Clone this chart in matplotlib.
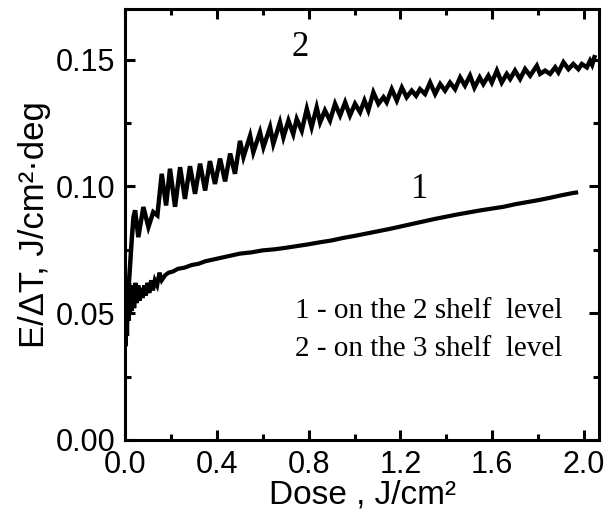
from typing import List
import matplotlib
matplotlib.use("Agg")
import matplotlib.pyplot as plt
from matplotlib.ticker import MultipleLocator

# curve 1 - on the 2 shelf level
dose_1: List[float] = [
    0.000, 0.003, 0.006, 0.009, 0.012, 0.015, 0.018, 0.022, 0.026, 0.030,
    0.035, 0.040, 0.046, 0.052, 0.058, 0.064, 0.070, 0.077, 0.084, 0.091,
    0.098, 0.106, 0.114, 0.122, 0.130, 0.140, 0.150, 0.160, 0.175, 0.190,
    0.210, 0.230, 0.260, 0.290, 0.320, 0.350, 0.400, 0.450, 0.500, 0.550,
    0.600, 0.650, 0.700, 0.750, 0.800, 0.850, 0.900, 0.950, 1.000, 1.050,
    1.100, 1.150, 1.200, 1.250, 1.300, 1.350, 1.400, 1.450, 1.500, 1.550,
    1.600, 1.650, 1.700, 1.750, 1.800, 1.850, 1.900, 1.950, 1.965,
]
ratio_1: List[float] = [
    0.045, 0.037, 0.052, 0.041, 0.060, 0.047, 0.062, 0.050, 0.061, 0.051,
    0.060, 0.052, 0.062, 0.054, 0.061, 0.055, 0.060, 0.056, 0.061, 0.057,
    0.062, 0.058, 0.063, 0.059, 0.063, 0.061, 0.066, 0.063, 0.065, 0.066,
    0.0665, 0.0675, 0.068, 0.069, 0.0695, 0.0705, 0.0715, 0.0725, 0.0735, 0.074,
    0.0748, 0.0752, 0.0758, 0.0765, 0.0772, 0.078, 0.0787, 0.0797, 0.0805, 0.0814,
    0.0823, 0.0832, 0.0842, 0.0852, 0.0862, 0.0872, 0.0881, 0.089, 0.0898, 0.0906,
    0.0913, 0.092, 0.093, 0.0938, 0.0946, 0.0955, 0.0965, 0.0974, 0.0976,
]

# curve 2 - on the 3 shelf level
dose_2: List[float] = [
    0.004, 0.012, 0.020, 0.030, 0.037, 0.044, 0.058, 0.080, 0.102, 0.123,
    0.141, 0.160, 0.179, 0.196, 0.218, 0.240, 0.261, 0.283, 0.305, 0.327,
    0.349, 0.370, 0.392, 0.414, 0.436, 0.458, 0.479, 0.501, 0.516, 0.545,
    0.559, 0.588, 0.603, 0.632, 0.646, 0.675, 0.690, 0.712, 0.733, 0.748,
    0.770, 0.792, 0.813, 0.835, 0.850, 0.871, 0.893, 0.915, 0.937, 0.959,
    0.980, 1.002, 1.024, 1.043, 1.060, 1.082, 1.104, 1.126, 1.140, 1.162,
    1.184, 1.206, 1.227, 1.249, 1.268, 1.285, 1.307, 1.329, 1.351, 1.373,
    1.394, 1.416, 1.438, 1.460, 1.481, 1.503, 1.522, 1.545, 1.561, 1.583,
    1.598, 1.620, 1.641, 1.663, 1.678, 1.699, 1.721, 1.743, 1.765, 1.794,
    1.808, 1.830, 1.852, 1.874, 1.888, 1.910, 1.932, 1.953, 1.975, 1.990,
    2.012, 2.026, 2.035, 2.045,
]
ratio_2: List[float] = [
    0.045, 0.056, 0.066, 0.080, 0.088, 0.0906, 0.080, 0.0919, 0.084, 0.0899,
    0.0886, 0.105, 0.0925, 0.107, 0.092, 0.1076, 0.0951, 0.108, 0.0971, 0.109,
    0.0984, 0.110, 0.101, 0.111, 0.102, 0.113, 0.105, 0.118, 0.1116, 0.120,
    0.1135, 0.1214, 0.1155, 0.1234, 0.1168, 0.1253, 0.1194, 0.126, 0.1207, 0.1266,
    0.122, 0.1306, 0.1234, 0.1312, 0.1253, 0.130, 0.126, 0.1326, 0.128, 0.1332,
    0.128, 0.1326, 0.1293, 0.1339, 0.130, 0.1371, 0.1326, 0.1352, 0.1332, 0.1384,
    0.1339, 0.139, 0.1352, 0.1378, 0.1358, 0.1384, 0.1365, 0.141, 0.1365, 0.1404,
    0.1378, 0.141, 0.1384, 0.143, 0.1398, 0.1437, 0.139, 0.143, 0.1404, 0.1437,
    0.141, 0.1457, 0.141, 0.1444, 0.1424, 0.1457, 0.1424, 0.1463, 0.1437, 0.1476,
    0.1444, 0.1457, 0.1444, 0.147, 0.145, 0.149, 0.1463, 0.1483, 0.1463, 0.1483,
    0.147, 0.1496, 0.148, 0.151,
]

legend_lines: List[str] = ["1 - on the 2 shelf  level", "2 - on the 3 shelf  level"]


def create_graph(output_file: str) -> None:
    """2本の曲線をグラフにする"""
    plt.rcParams["font.family"] = ["Liberation Sans", "DejaVu Sans"]
    serif = ["Liberation Serif", "DejaVu Serif"]

    fig = plt.figure(figsize=(6.14, 5.21), dpi=100)
    ax = fig.add_axes([0.2036, 0.1555, 0.772, 0.8272])

    ax.plot(dose_1, ratio_1, color="black", lw=3.0, solid_joinstyle="miter")
    ax.plot(dose_2, ratio_2, color="black", lw=3.2, solid_joinstyle="miter")

    ax.set_xlim(0, 2.065)
    ax.set_ylim(0, 0.17)
    ax.xaxis.set_major_locator(MultipleLocator(0.4))
    ax.xaxis.set_minor_locator(MultipleLocator(0.2))
    ax.yaxis.set_major_locator(MultipleLocator(0.05))
    ax.yaxis.set_minor_locator(MultipleLocator(0.025))
    ax.xaxis.set_major_formatter(lambda v, p: f"{v:.1f}")
    ax.yaxis.set_major_formatter(lambda v, p: f"{v:.2f}")

    ax.tick_params(which="both", direction="in", top=True, right=True,
                   width=2.2, labelsize=22, pad=7)
    ax.tick_params(which="major", length=7)
    ax.tick_params(which="minor", length=4.5)
    for s in ax.spines.values():
        s.set_linewidth(2.2)

    ax.set_xlabel("Dose , J/cm\u00b2", fontsize=24, labelpad=0)
    ax.set_ylabel("E/\u0394T, J/cm\u00b2\u00b7deg", fontsize=25, labelpad=3)

    ax.text(0.763, 0.1547, "2", family=serif, fontsize=25,
            ha="center", va="center")
    ax.text(1.285, 0.099, "1", family=serif, fontsize=25,
            ha="center", va="center")
    ax.text(0.741, 0.048, legend_lines[0], family=serif, fontsize=21,
            ha="left", va="baseline")
    ax.text(0.741, 0.033, legend_lines[1], family=serif, fontsize=21,
            ha="left", va="baseline")

    fig.savefig(output_file, dpi=100)


if __name__ == "__main__":
    create_graph("out.png")
